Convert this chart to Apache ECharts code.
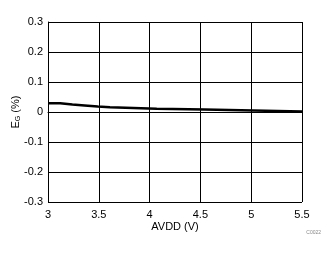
<!DOCTYPE html>
<html><head><meta charset="utf-8">
<script src="https://cdn.jsdelivr.net/npm/echarts@6/dist/echarts.min.js"></script>
<style>html,body{margin:0;padding:0;background:#fff}#c{width:335px;height:254px}</style>
</head><body><div id="c"></div>
<script>
const xValues = [3.0, 3.12, 3.24, 3.36, 3.49, 3.61, 4.07, 4.54, 5.5];
const egValues = [0.029, 0.025, 0.022, 0.018, 0.016, 0.011, 0.008, 0.002, 0.002];
const xTicks = [3, 3.5, 4, 4.5, 5, 5.5];
const yTicks = [-0.3, -0.2, -0.1, 0, 0.1, 0.2, 0.3];

const chart = echarts.init(document.getElementById('c'), null, {renderer: 'canvas'});
const font = 'Liberation Sans, Arial, sans-serif';
chart.setOption({
  animation: false,
  grid: {left: 48, right: 33, top: 22, bottom: 52, containLabel: false, outerBoundsMode: 'none'},
  xAxis: {
    type: 'value', min: 3, max: 5.5, interval: 0.5,
    axisLine: {show: true, lineStyle: {color: '#000', width: 1}},
    axisTick: {show: false},
    splitLine: {show: true, lineStyle: {color: '#000', width: 1}},
    axisLabel: {color: '#000', fontFamily: font, fontSize: 11, margin: 7,
      formatter: v => String(v)},
    name: 'AVDD (V)', nameLocation: 'middle', nameGap: 19, nameMoveOverlap: false,
    nameTextStyle: {color: '#000', fontFamily: font, fontSize: 11}
  },
  yAxis: {
    type: 'value', min: -0.3, max: 0.3, interval: 0.1,
    axisLine: {show: true, lineStyle: {color: '#000', width: 1}},
    axisTick: {show: false},
    splitLine: {show: true, lineStyle: {color: '#000', width: 1}},
    axisLabel: {color: '#000', fontFamily: font, fontSize: 11, margin: 5,
      formatter: v => String(Math.round(v * 10) / 10)},
    name: '{a|E}{b|G}{a| (%)}', nameLocation: 'middle', nameGap: 26, nameMoveOverlap: false,
    nameTextStyle: {rich: {
      a: {color: '#000', fontFamily: font, fontSize: 11},
      b: {color: '#000', fontFamily: font, fontSize: 7, verticalAlign: 'bottom', padding: [6, 0, 0, 0]}
    }}
  },
  series: [{
    type: 'line', step: 'end', symbol: 'none',
    lineStyle: {color: '#000', width: 2.5},
    data: xValues.map((x, i) => [x, egValues[i]])
  }],
  graphic: [{
    type: 'text', right: 14, top: 230,
    style: {text: 'C0022', fill: '#888', fontSize: 5, fontFamily: font}
  }]
});
</script></body></html>
